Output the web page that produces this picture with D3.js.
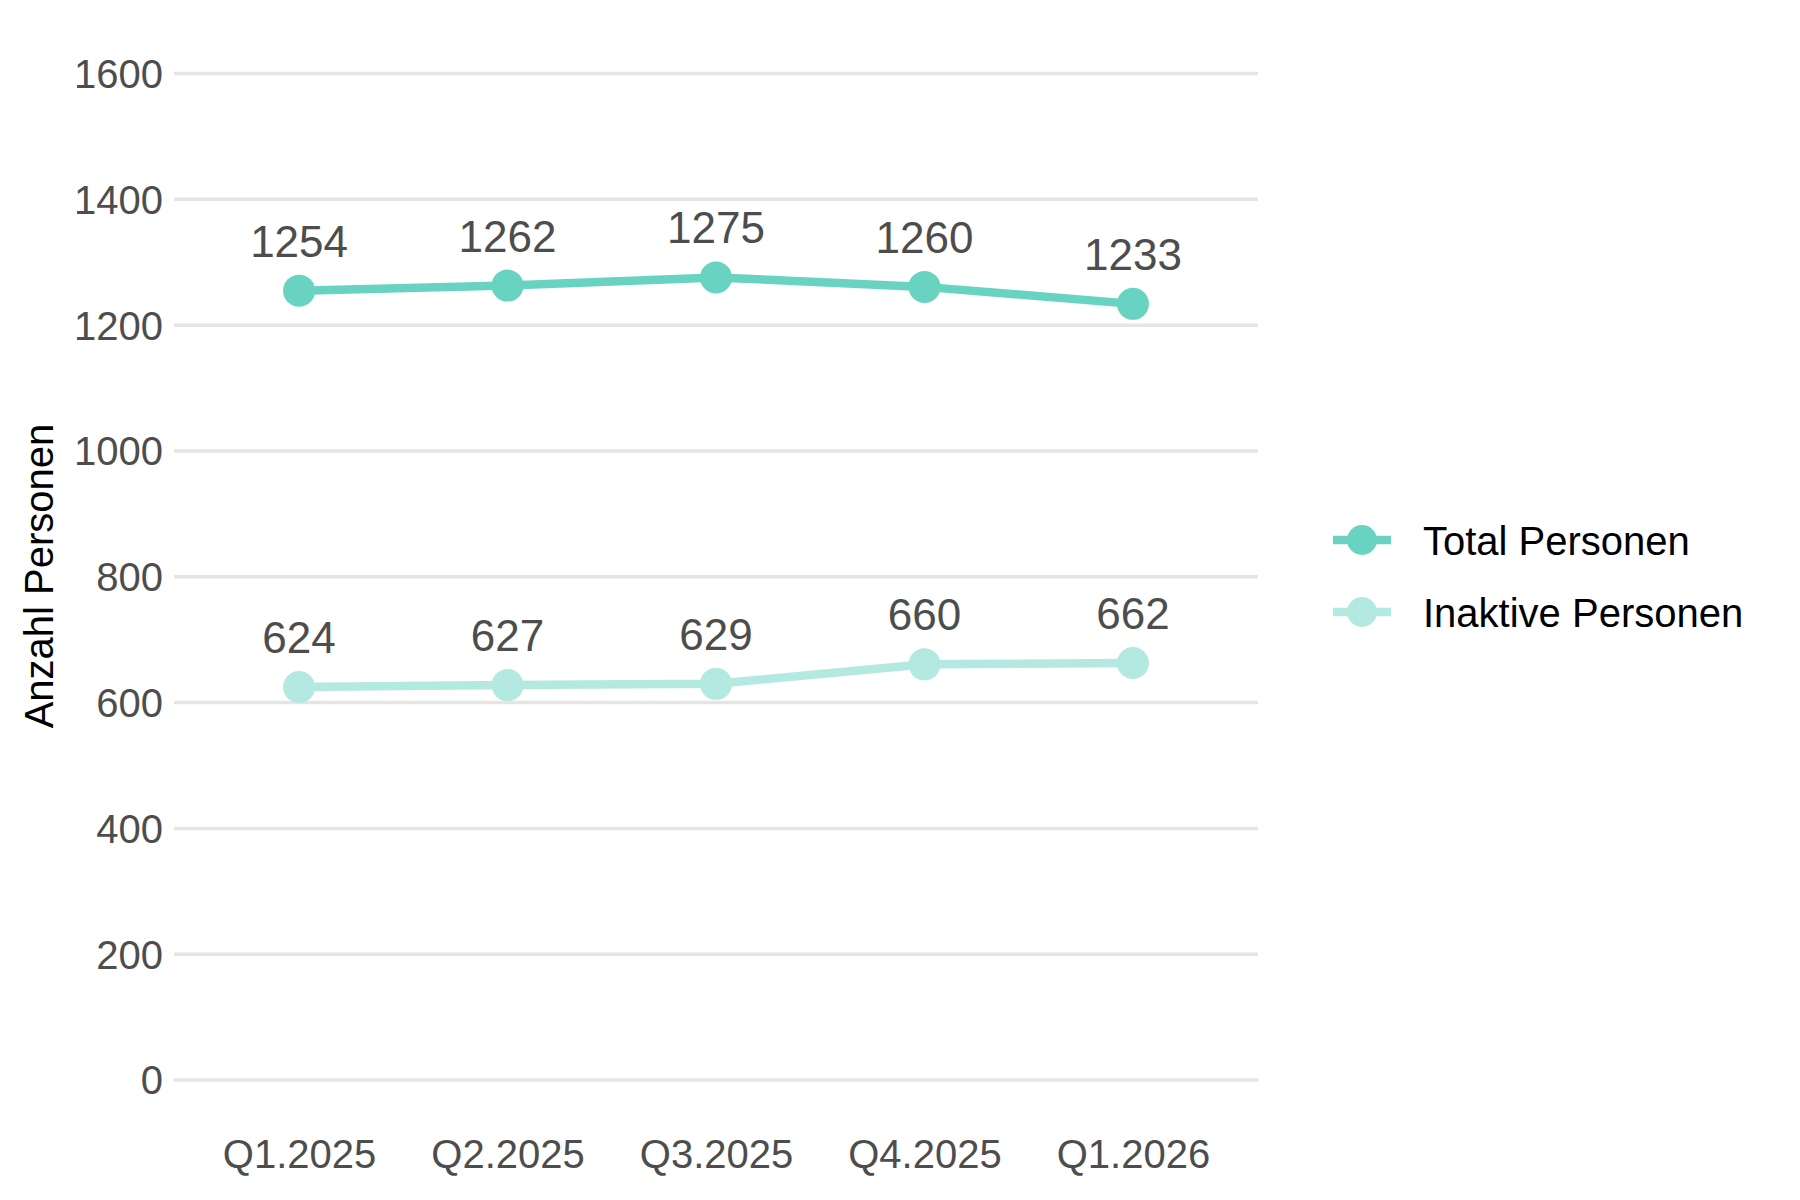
<!DOCTYPE html>
<html><head><meta charset="utf-8">
<script src="https://cdn.jsdelivr.net/npm/d3@7"></script>
<style>body{margin:0;background:#fff}svg{display:block;font-family:"Liberation Sans",Arial,sans-serif}</style>
</head><body>
<script>
const categories = ["Q1.2025","Q2.2025","Q3.2025","Q4.2025","Q1.2026"];
const totalValues = [1254,1262,1275,1260,1233];
const inaktivValues = [624,627,629,660,662];
const yTicks = [0,200,400,600,800,1000,1200,1400,1600];
const seriesNames = ["Total Personen","Inaktive Personen"];
const seriesColors = ["#69D3C2","#B3E9E0"];

(function(){
const W=1800,H=1200;
const svg=d3.select("body").append("svg").attr("width",W).attr("height",H);
const pLeft=174,pRight=1258,pTop=73,pBottom=1079.5;
const x=d3.scalePoint().domain(categories).range([pLeft,pRight]).padding(0.6);
const y=d3.scaleLinear().domain([0,1600]).range([pBottom,pTop]);

const yAxis=d3.axisLeft(y).tickValues(yTicks).tickFormat(d3.format("d")).tickSize(-(pRight-pLeft)).tickPadding(11);
const gy=svg.append("g").attr("transform",`translate(${pLeft},0)`).call(yAxis);
gy.select(".domain").remove();
gy.selectAll(".tick line").attr("stroke","#e5e5e5").attr("stroke-width",3.5);
gy.selectAll(".tick text").attr("fill","#4d4d4d").attr("font-size",40).attr("font-family","Liberation Sans, Arial, sans-serif").attr("dy","0.36em");

const xAxis=d3.axisBottom(x).tickSize(0).tickPadding(0);
const gx=svg.append("g").attr("transform",`translate(0,1168)`).call(xAxis);
gx.select(".domain").remove();
gx.selectAll(".tick text").attr("fill","#4d4d4d").attr("font-size",40).attr("font-family","Liberation Sans, Arial, sans-serif").attr("dy",0).attr("y",0);

svg.append("text").attr("transform",`translate(53,576) rotate(-90)`).attr("text-anchor","middle")
  .attr("font-size",40).attr("fill","#000").text("Anzahl Personen");

const series=[totalValues,inaktivValues];
const line=d3.line().x((d,i)=>x(categories[i])).y(d=>y(d));
series.forEach((vals,si)=>{
  svg.append("path").datum(vals).attr("d",line).attr("fill","none")
    .attr("stroke",seriesColors[si]).attr("stroke-width",8.5).attr("stroke-linejoin","round");
  svg.selectAll(null).data(vals).enter().append("circle")
    .attr("cx",(d,i)=>x(categories[i])).attr("cy",d=>y(d)).attr("r",16).attr("fill",seriesColors[si]);
  svg.selectAll(null).data(vals).enter().append("text")
    .attr("x",(d,i)=>x(categories[i])).attr("y",d=>y(d)-34).attr("text-anchor","middle")
    .attr("font-size",44).attr("fill","#4d4d4d").text(d=>d);
});

const legY=[540,612];
seriesNames.forEach((n,i)=>{
  const g=svg.append("g");
  g.append("line").attr("x1",1333).attr("x2",1391).attr("y1",legY[i]).attr("y2",legY[i])
    .attr("stroke",seriesColors[i]).attr("stroke-width",8.5);
  g.append("circle").attr("cx",1362).attr("cy",legY[i]).attr("r",15).attr("fill",seriesColors[i]);
  g.append("text").attr("x",1423).attr("y",legY[i]+15).attr("font-size",40).attr("fill","#000").text(n);
});
})();
</script>
</body></html>
